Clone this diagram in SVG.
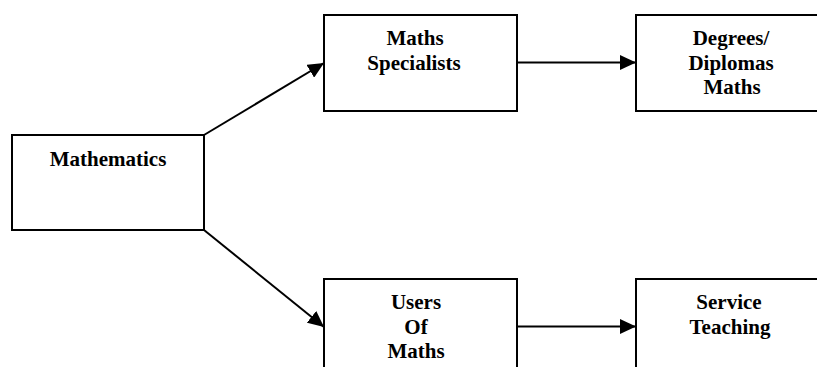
<svg xmlns="http://www.w3.org/2000/svg" width="817" height="367" viewBox="0 0 817 367">
<defs>
<style>
.box{fill:#fff;stroke:#000;stroke-width:2}
.lbl{font-family:"Liberation Serif","Times New Roman",serif;font-weight:bold;font-size:21px;text-anchor:middle;fill:#000}
.con{stroke:#000;stroke-width:2;fill:none}
</style>
<marker id="ah" viewBox="0 0 16 15" refX="16" refY="7.5" markerWidth="16" markerHeight="15" markerUnits="userSpaceOnUse" orient="auto">
<path d="M0,0 L16,7.5 L0,15 Z" fill="#000"/>
</marker>
</defs>
<rect width="817" height="367" fill="#fff"/>
<g id="connectors">
<line class="con" x1="204" y1="135" x2="324" y2="63" marker-end="url(#ah)"/>
<line class="con" x1="204" y1="230" x2="324" y2="327" marker-end="url(#ah)"/>
<line class="con" x1="517" y1="62.5" x2="636" y2="62.5" marker-end="url(#ah)"/>
<line class="con" x1="517" y1="326.5" x2="636" y2="326.5" marker-end="url(#ah)"/>
</g>
<g id="mathematics">
<rect class="box" x="12" y="135" width="192" height="95"/>
<text class="lbl" x="108" y="166">Mathematics</text>
</g>
<g id="maths-specialists">
<rect class="box" x="324" y="15" width="193" height="96"/>
<text class="lbl" x="415" y="45">Maths</text>
<text class="lbl" x="414" y="70">Specialists</text>
</g>
<g id="degrees-diplomas">
<rect class="box" x="636" y="15" width="200" height="96"/>
<text class="lbl" x="731" y="45">Degrees/</text>
<text class="lbl" x="731" y="69.5">Diplomas</text>
<text class="lbl" x="732" y="94">Maths</text>
</g>
<g id="users-of-maths">
<rect class="box" x="324" y="279" width="193" height="100"/>
<text class="lbl" x="416" y="309">Users</text>
<text class="lbl" x="416" y="333.5">Of</text>
<text class="lbl" x="416" y="358">Maths</text>
</g>
<g id="service-teaching">
<rect class="box" x="636" y="279" width="200" height="100"/>
<text class="lbl" x="729" y="309">Service</text>
<text class="lbl" x="730" y="333.5">Teaching</text>
</g>
</svg>
